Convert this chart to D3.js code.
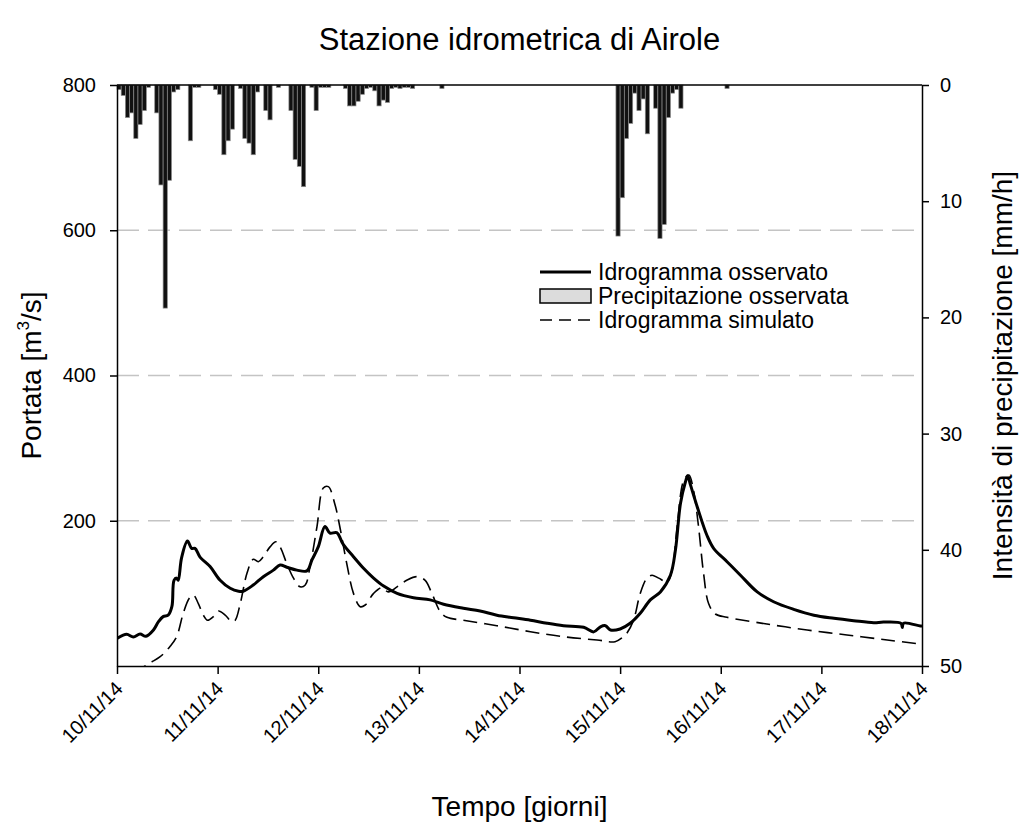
<!DOCTYPE html>
<html lang="it">
<head>
  <meta charset="UTF-8">
  <title>Stazione idrometrica di Airole</title>
  <style>
    body, html {
      margin: 0;
      background-color: white;
    }
    svg text {
      font-family: "Liberation Sans", Arial, sans-serif;
      fill: black;
    }
  </style>
</head>
<body>
  <svg id="svg" width="1019" height="825"></svg>
  <script src="https://d3js.org/d3.v7.min.js"></script>
  <script>
    // time is in hours from 10/11/14 00:00
    const dayLabels = ['10/11/14', '11/11/14', '12/11/14', '13/11/14', '14/11/14', '15/11/14', '16/11/14', '17/11/14', '18/11/14']
    const portataTicks = [200, 400, 600, 800]
    const pioggiaTicks = [0, 10, 20, 30, 40, 50]
    const gridValues = [200, 400, 600]

    // observed hourly rain [hour, mm/h]
    const pioggia = [
      [0, 0.4], [1, 0.9], [2, 2.8], [3, 2.4], [4, 4.6], [5, 3.4], [6, 2.2], [7, 0.2],
      [9, 2.4], [10, 8.6], [11, 19.2], [12, 8.2], [13, 0.6], [14, 0.4],
      [17, 4.8], [18, 0.2], [19, 0.2],
      [23, 0.4], [24, 0.8], [25, 6.0], [26, 4.8], [27, 3.8], [29, 0.3],
      [30, 4.6], [31, 5.0], [32, 6.0], [33, 0.6], [35, 2.2], [36, 3.0], [38, 0.2],
      [41, 2.2], [42, 6.4], [43, 7.0], [44, 8.75], [46, 0.2], [47, 2.2], [48, 0.2], [49, 0.2], [50, 0.2],
      [54, 0.3], [55, 1.8], [56, 1.8], [57, 1.4], [58, 0.8], [59, 0.3],
      [60, 0.2], [61, 0.5], [62, 1.8], [63, 1.3], [64, 1.5],
      [65, 0.3], [66, 0.2], [67, 0.3], [68, 0.2], [69, 0.2], [70, 0.3], [77, 0.3],
      [119, 13.0], [120, 9.7], [121, 4.6], [122, 3.3], [123, 0.7], [124, 2.2], [125, 1.2], [126, 4.2],
      [128, 2.0], [129, 13.2], [130, 12.0], [131, 2.8], [132, 0.7], [133, 0.4], [134, 2.0],
      [145, 0.3]
    ]

    // observed hydrograph [hour, m3/s]
    const osservato = [
      [0, 38], [2.3, 43.6], [3.9, 40], [5.5, 44], [6.9, 41], [8.7, 49.6], [9.9, 61], [11, 68],
      [12.2, 70], [13.1, 82], [13.6, 118], [14.2, 121], [14.6, 118], [15.4, 149], [16.8, 172],
      [17.8, 162], [18.6, 162], [19.8, 150], [22.2, 137], [24.6, 118], [27, 107], [29, 103],
      [30.1, 103], [32.5, 111.5], [34.9, 123], [37.3, 132], [38.9, 139], [40.5, 136], [42.9, 132],
      [45.3, 131], [46.5, 146], [48, 164], [49.6, 192], [50.8, 183], [52.4, 183.6], [54, 167],
      [56.4, 150.5], [58.8, 134.5], [61.2, 121], [63.6, 110], [66.8, 100], [70.7, 94], [74.7, 91],
      [77.9, 85], [82.6, 79.5], [86.6, 75.7], [90.6, 70], [94.6, 66.5], [98.6, 63], [102.6, 58.8],
      [106.5, 55.5], [111.3, 53.3], [113.7, 47], [115.3, 54], [116.5, 55.5], [117.7, 49.6],
      [120, 51], [122.4, 58.8], [124.8, 72.6], [127.2, 91], [129.6, 102], [132, 125], [133.2, 160],
      [134.4, 224], [135.6, 254], [136.1, 262], [136.8, 249], [138.4, 219], [140.7, 180],
      [142.3, 162], [145.5, 143.6], [148.7, 125], [152.7, 102], [156.6, 88.5], [161.4, 78],
      [166.2, 70], [171, 65.7], [175.7, 62.4], [180.5, 59.6], [182.8, 60.5], [187, 58.8],
      [187.3, 53], [187.6, 59], [191.6, 55], [192, 55]
    ]

    // simulated hydrograph [hour, m3/s]
    const simulato = [
      [4, -10], [7.7, 3.7], [10.3, 12.8], [12.6, 26.6], [14.2, 40], [15.8, 72.6], [17.2, 93],
      [18.2, 97.8], [19.4, 86], [20.6, 70], [21.6, 63], [23, 68], [24.2, 75.7], [25.8, 70],
      [27.4, 61], [28.2, 63], [29.4, 86], [31, 127.6], [32.5, 147], [33.7, 143.6], [34.9, 150.5],
      [36.5, 164], [37.9, 171], [38.9, 164], [40.5, 141], [42.1, 121], [43.7, 109], [44.9, 111.5],
      [46.1, 139], [47.7, 192], [49.2, 245], [50.4, 247], [52, 222], [53.2, 190], [54.8, 141],
      [56.4, 100], [58, 81.7], [59.2, 84], [61.2, 100], [63.2, 108], [64.7, 102], [66.8, 109],
      [69.1, 118], [71.5, 123], [73.5, 118], [75.1, 100], [77.1, 74.8], [78.7, 67], [82.6, 63],
      [90.6, 55.5], [98.6, 47.2], [106.5, 40.3], [114.5, 35.8], [118.8, 33.5], [120.8, 40.3],
      [121.6, 45], [123.2, 63], [124.8, 100], [126.4, 121], [127.6, 125], [129.2, 121],
      [131.2, 116], [132.4, 132], [133.6, 192], [135.2, 256], [136.4, 263], [137.5, 242],
      [138.7, 192], [139.9, 127.6], [141.1, 86], [142.7, 71.6], [145.5, 67], [155, 57.8],
      [164.6, 49.6], [174.1, 42.7], [183.7, 35.8], [191.6, 30.3], [192, 30]
    ]

    const plotLeft = 117, plotRight = 922, plotTop = 85, plotBottom = 666

    const svg = d3.select('#svg')

    const xScale = d3.scaleLinear()
      .domain([0, 192])
      .range([plotLeft, plotRight])
    const yScale = d3.scaleLinear()
      .domain([0, 800])
      .range([plotBottom, plotTop])
    const rainScale = d3.scaleLinear()
      .domain([0, 50])
      .range([plotTop, plotBottom])

    svg.append('defs')
      .append('clipPath')
      .attr('id', 'plot-clip')
      .append('rect')
      .attr('x', plotLeft)
      .attr('y', plotTop)
      .attr('width', plotRight - plotLeft)
      .attr('height', plotBottom - plotTop)

    // dashed grid lines
    svg.append('g')
      .selectAll('line')
      .data(gridValues)
      .enter()
      .append('line')
      .attr('x1', plotLeft)
      .attr('x2', plotRight)
      .attr('y1', d => yScale(d))
      .attr('y2', d => yScale(d))
      .attr('stroke', '#c4c4c4')
      .attr('stroke-width', 1.5)
      .attr('stroke-dasharray', '22,9')

    // rain bars hanging from the top
    const barW = xScale(1) - xScale(0)
    svg.append('g')
      .selectAll('rect')
      .data(pioggia)
      .enter()
      .append('rect')
      .attr('x', d => xScale(d[0]))
      .attr('y', plotTop)
      .attr('width', barW)
      .attr('height', d => rainScale(d[1]) - plotTop)
      .attr('fill', '#111')
      .attr('stroke', '#8a8a8a')
      .attr('stroke-width', 0.7)

    const line = d3.line()
      .x(d => xScale(d[0]))
      .y(d => yScale(d[1]))
      .curve(d3.curveCatmullRom.alpha(0.5))

    const curves = svg.append('g').attr('clip-path', 'url(#plot-clip)')
    curves.append('path')
      .datum(simulato)
      .attr('d', line)
      .attr('fill', 'none')
      .attr('stroke', 'black')
      .attr('stroke-width', 1.6)
      .attr('stroke-dasharray', '14,7')
    curves.append('path')
      .datum(osservato)
      .attr('d', line)
      .attr('fill', 'none')
      .attr('stroke', 'black')
      .attr('stroke-width', 3)
      .attr('stroke-linejoin', 'round')

    // frame top
    svg.append('line')
      .attr('x1', plotLeft).attr('x2', plotRight)
      .attr('y1', plotTop).attr('y2', plotTop)
      .attr('stroke', 'black').attr('stroke-width', 1.5)

    // axes
    const bottomAxis = d3.axisBottom(xScale)
      .tickValues(d3.range(0, 193, 24))
      .tickFormat('')
      .tickSize(8)
      .tickSizeOuter(0)
    const xAxis = svg.append('g')
      .attr('transform', `translate(0, ${plotBottom})`)
      .call(bottomAxis)
    xAxis.selectAll('.day-label')
      .data(dayLabels)
      .enter()
      .append('text')
      .attr('class', 'day-label')
      .text(d => d)
      .attr('text-anchor', 'end')
      .attr('transform', (d, i) => `translate(${xScale(i * 24) + 7}, 24) rotate(-45)`)
      .style('font-size', '20px')

    const leftAxis = d3.axisLeft(yScale)
      .tickValues(portataTicks)
      .tickSize(7)
      .tickSizeOuter(0)
      .tickPadding(14)
    svg.append('g')
      .attr('transform', `translate(${plotLeft}, 0)`)
      .call(leftAxis)
      .selectAll('text')
      .style('font-size', '20px')

    const rightAxis = d3.axisRight(rainScale)
      .tickValues(pioggiaTicks)
      .tickSize(7)
      .tickSizeOuter(0)
      .tickPadding(11)
    svg.append('g')
      .attr('transform', `translate(${plotRight}, 0)`)
      .call(rightAxis)
      .selectAll('text')
      .style('font-size', '20px')

    svg.selectAll('.domain, .tick line')
      .attr('stroke', 'black')
      .attr('stroke-width', 1.5)

    // titles
    svg.append('text')
      .attr('x', (plotLeft + plotRight) / 2)
      .attr('y', 50)
      .attr('text-anchor', 'middle')
      .style('font-size', '31px')
      .text('Stazione idrometrica di Airole')

    svg.append('text')
      .attr('x', (plotLeft + plotRight) / 2)
      .attr('y', 816)
      .attr('text-anchor', 'middle')
      .style('font-size', '28px')
      .text('Tempo [giorni]')

    const yTitle = svg.append('text')
      .attr('transform', `translate(41, ${(plotTop + plotBottom) / 2}) rotate(-90)`)
      .attr('text-anchor', 'middle')
      .style('font-size', '28px')
    yTitle.append('tspan').text('Portata [m')
    yTitle.append('tspan').text('3').style('font-size', '17px').attr('dy', -12)
    yTitle.append('tspan').text('/s]').attr('dy', 12)

    svg.append('text')
      .attr('transform', `translate(1012, ${(plotTop + plotBottom) / 2}) rotate(-90)`)
      .attr('text-anchor', 'middle')
      .style('font-size', '28px')
      .text('Intensità di precipitazione [mm/h]')

    // legend
    const legend = svg.append('g').attr('transform', 'translate(540, 272)')
    const rowH = 24
    legend.append('line')
      .attr('x1', 0).attr('x2', 51).attr('y1', 0).attr('y2', 0)
      .attr('stroke', 'black').attr('stroke-width', 3)
    legend.append('rect')
      .attr('x', 0).attr('y', rowH - 7).attr('width', 51).attr('height', 14)
      .attr('fill', '#dcdcdc').attr('stroke', 'black').attr('stroke-width', 1.5)
    legend.append('line')
      .attr('x1', 0).attr('x2', 51).attr('y1', rowH * 2).attr('y2', rowH * 2)
      .attr('stroke', 'black').attr('stroke-width', 1.6).attr('stroke-dasharray', '12,7')
    legend.selectAll('text')
      .data(['Idrogramma osservato', 'Precipitazione osservata', 'Idrogramma simulato'])
      .enter()
      .append('text')
      .attr('x', 58)
      .attr('y', (d, i) => i * rowH)
      .attr('dy', '0.35em')
      .style('font-size', '23px')
      .text(d => d)
  </script>
</body>
</html>
